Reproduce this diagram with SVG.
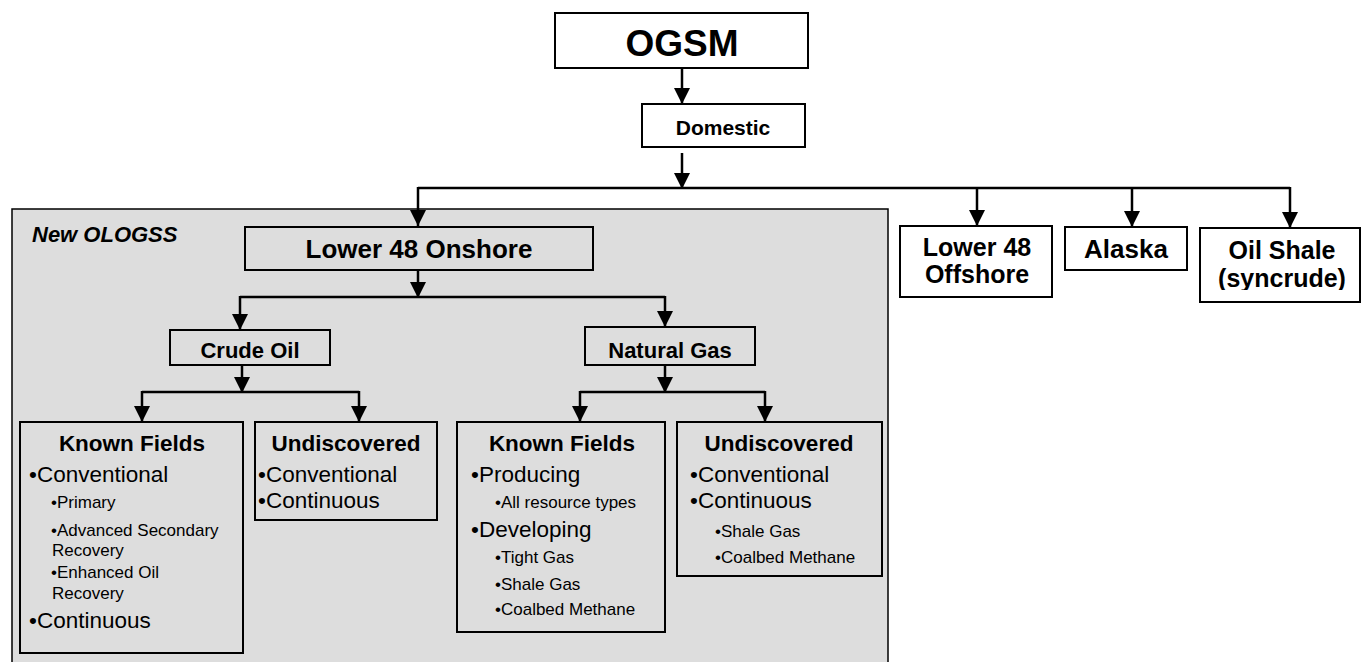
<svg xmlns="http://www.w3.org/2000/svg" width="1361" height="662" viewBox="0 0 1361 662">
<style>
.box{fill:#fff;stroke:#000;stroke-width:2}
.gbox{fill:#dddddd;stroke:#000;stroke-width:2}
.t{font-family:"Liberation Sans",Arial,sans-serif;fill:#000}
.b{font-weight:bold}
.c{text-anchor:middle}
.l1{font-size:22.5px}
.l2{font-size:17px}
.ln{fill:none;stroke:#000;stroke-width:2.5}
</style>
<defs>
<marker id="ah" viewBox="0 0 10 10" refX="10" refY="5" markerWidth="17" markerHeight="16" markerUnits="userSpaceOnUse" orient="auto">
<path d="M0,0 L10,5 L0,10 Z" fill="#000"/>
</marker>
<clipPath id="cl"><rect x="1200" y="228" width="161" height="62"/></clipPath>
</defs>
<rect width="1361" height="662" fill="#fff"/>
<g id="ologss">
<rect x="12" y="209" width="876" height="470" fill="#dddddd" stroke="#000" stroke-width="1.5"/>
<text class="t b" x="32" y="242" font-size="22" font-style="italic">New OLOGSS</text>
</g>
<g id="connectors">
<path class="ln" d="M682,68 V104" marker-end="url(#ah)"/>
<path class="ln" d="M682,153 V189" marker-end="url(#ah)"/>
<path class="ln" d="M418,188 H1290"/>
<path class="ln" d="M418,187 V226" marker-end="url(#ah)"/>
<path class="ln" d="M977,187 V226" marker-end="url(#ah)"/>
<path class="ln" d="M1132,187 V227" marker-end="url(#ah)"/>
<path class="ln" d="M1290,187 V228" marker-end="url(#ah)"/>
<path class="ln" d="M240,297 H665"/>
<path class="ln" d="M418,270 V298" marker-end="url(#ah)"/>
<path class="ln" d="M240,296 V330" marker-end="url(#ah)"/>
<path class="ln" d="M665,296 V327" marker-end="url(#ah)"/>
<path class="ln" d="M242,365 V393" marker-end="url(#ah)"/>
<path class="ln" d="M142,392 H359"/>
<path class="ln" d="M142,391 V422" marker-end="url(#ah)"/>
<path class="ln" d="M359,391 V422" marker-end="url(#ah)"/>
<path class="ln" d="M665,365 V393" marker-end="url(#ah)"/>
<path class="ln" d="M580,392 H765"/>
<path class="ln" d="M580,391 V422" marker-end="url(#ah)"/>
<path class="ln" d="M765,391 V422" marker-end="url(#ah)"/>
</g>
<g id="ogsm">
<rect class="box" x="555" y="13" width="253" height="55" stroke-width="2.5"/>
<text class="t b c" x="682" y="56" font-size="37">OGSM</text>
</g>
<g id="domestic">
<rect class="box" x="642" y="104" width="163" height="43"/>
<text class="t b c" x="723" y="135" font-size="21">Domestic</text>
</g>
<g id="onshore">
<rect class="gbox" x="245" y="227" width="348" height="43"/>
<text class="t b c" x="419" y="258" font-size="26">Lower 48 Onshore</text>
</g>
<g id="offshore">
<rect class="box" x="900" y="226" width="152" height="71"/>
<text class="t b c" x="977" y="256" font-size="25">Lower 48</text>
<text class="t b c" x="977" y="283" font-size="25">Offshore</text>
</g>
<g id="alaska">
<rect class="box" x="1065" y="227" width="122" height="43"/>
<text class="t b c" x="1126" y="258" font-size="26">Alaska</text>
</g>
<g id="oilshale">
<rect class="box" x="1200" y="228" width="160" height="74"/>
<text class="t b c" x="1282" y="259" font-size="25">Oil Shale</text>
<text class="t b c" x="1282" y="287" font-size="25" clip-path="url(#cl)">(syncrude)</text>
</g>
<g id="crudeoil">
<rect class="gbox" x="170" y="330" width="160" height="35"/>
<text class="t b c" x="250" y="358" font-size="22">Crude Oil</text>
</g>
<g id="naturalgas">
<rect class="gbox" x="585" y="327" width="170" height="38"/>
<text class="t b c" x="670" y="358" font-size="22">Natural Gas</text>
</g>
<g id="oil-known">
<rect class="gbox" x="20" y="422" width="223" height="231"/>
<text class="t b c l1" x="132" y="451">Known Fields</text>
<text class="t l1" x="29" y="482">•Conventional</text>
<text class="t l2" x="51" y="508">•Primary</text>
<text class="t l2" x="51" y="536">•Advanced Secondary</text>
<text class="t l2" x="52" y="556">Recovery</text>
<text class="t l2" x="51" y="578">•Enhanced Oil</text>
<text class="t l2" x="52" y="599">Recovery</text>
<text class="t l1" x="29" y="628">•Continuous</text>
</g>
<g id="oil-undisc">
<rect class="gbox" x="255" y="422" width="182" height="98"/>
<text class="t b c l1" x="346" y="451">Undiscovered</text>
<text class="t l1" x="258" y="482">•Conventional</text>
<text class="t l1" x="258" y="508">•Continuous</text>
</g>
<g id="gas-known">
<rect class="gbox" x="457" y="422" width="208" height="210"/>
<text class="t b c l1" x="562" y="451">Known Fields</text>
<text class="t l1" x="471" y="482">•Producing</text>
<text class="t l2" x="495" y="508">•All resource types</text>
<text class="t l1" x="471" y="537">•Developing</text>
<text class="t l2" x="495" y="563">•Tight Gas</text>
<text class="t l2" x="495" y="590">•Shale Gas</text>
<text class="t l2" x="495" y="615">•Coalbed Methane</text>
</g>
<g id="gas-undisc">
<rect class="gbox" x="677" y="422" width="205" height="154"/>
<text class="t b c l1" x="779" y="451">Undiscovered</text>
<text class="t l1" x="690" y="482">•Conventional</text>
<text class="t l1" x="690" y="508">•Continuous</text>
<text class="t l2" x="715" y="537">•Shale Gas</text>
<text class="t l2" x="715" y="563">•Coalbed Methane</text>
</g>
</svg>
